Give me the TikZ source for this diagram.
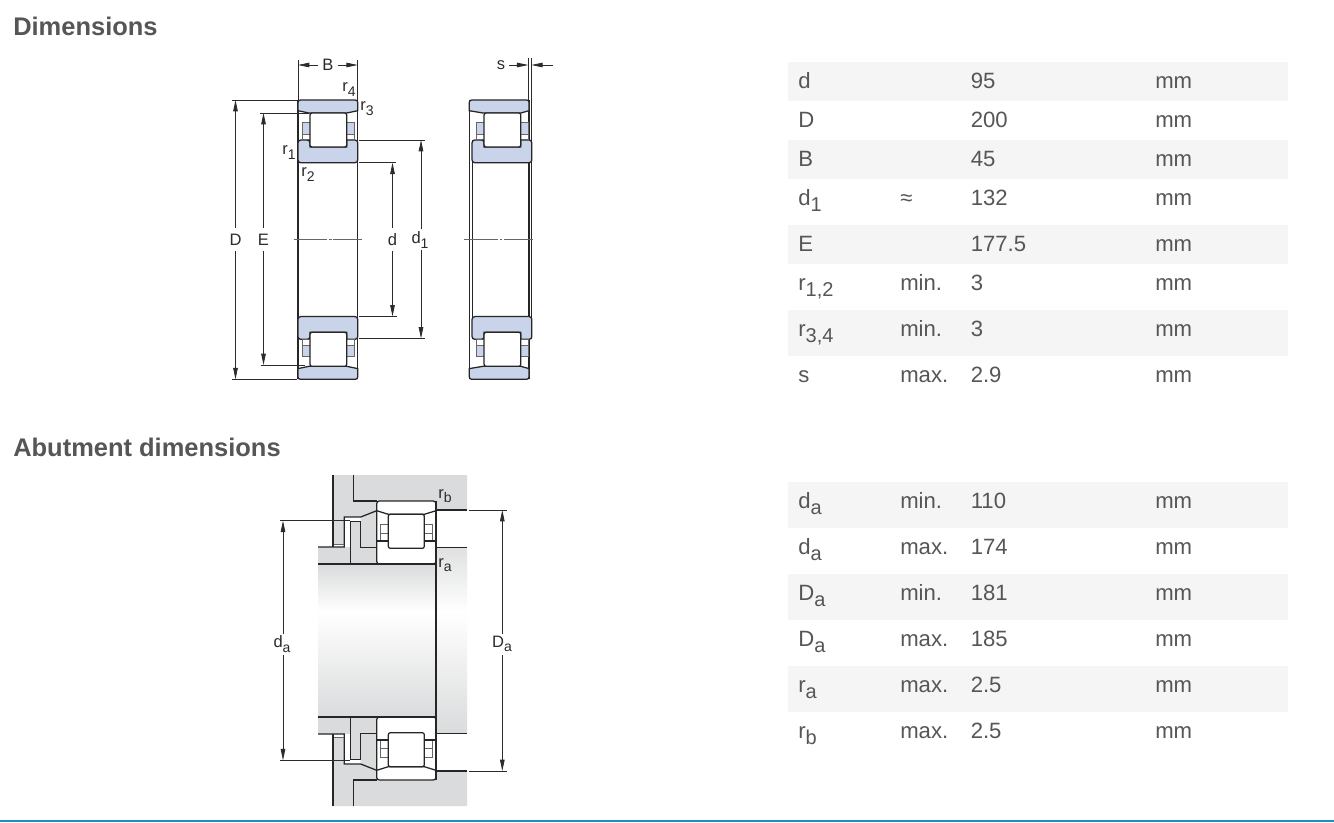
\documentclass[tikz,border=0pt]{standalone}
\usepackage{fontspec}
\setmainfont{Liberation Sans}
\usetikzlibrary{arrows.meta}
\definecolor{txt}{HTML}{565658}
\definecolor{draw1}{HTML}{2B2B2B}
\definecolor{stripe}{HTML}{F5F5F5}
\definecolor{ringblue}{HTML}{C9D4EA}
\definecolor{metal}{HTML}{DADBDC}
\definecolor{barblue}{HTML}{1A8FC4}
\newcommand{\sbs}[1]{\raisebox{-0.52ex}{\fontsize{15}{15}\selectfont #1}}
\newcommand{\dsb}[1]{\raisebox{-0.5ex}{\fontsize{10.5}{10.5}\selectfont #1}}
\newcommand{\BearingHalf}[1]{%
  \draw[part,fill=ringblue] (0,10.7) -- (0,2.5) .. controls (0,0.8) and (0.8,0) .. (2.5,0) -- (57.2,0) .. controls (58.9,0) and (59.7,0.8) .. (59.7,2.5) -- (59.7,10.7) -- (48.7+#1,13) -- (11+#1,13) -- cycle;
  \draw[part,fill=ringblue,rounded corners=2pt] (#1,40) -- (12+#1,40) [sharp corners] -- (12+#1,47) -- (48.7+#1,47) -- (48.7+#1,40) [rounded corners=2pt] -- (59.7+#1,40) -- (59.7+#1,62.7) -- (#1,62.7) -- cycle;
  \draw[thinpart,fill=white] (4.7+#1,22.7) rectangle (12+#1,39.5);
  \draw[thinpart,fill=white] (48.7+#1,22.7) rectangle (56.2+#1,39.5);
  \draw[thinpart,fill=ringblue] (4.7+#1,22.7) rectangle (12+#1,34);
  \draw[thinpart,fill=ringblue] (48.7+#1,22.7) rectangle (56.2+#1,34);
  \draw[part,fill=white,rounded corners=1.5pt] (12+#1,13) rectangle (48.7+#1,47);
}
\newcommand{\AbutHalf}{%
  \fill[metal] (333,475) -- (467,475) -- (467,510) -- (436,510) -- (436,564) -- (318,564) -- (318,547) -- (333,547) -- cycle;
  \fill[white] (344.3,517) -- (360.7,517) -- (360.7,521.7) -- (350.3,521.7) -- (350.3,547) -- (344.3,547) -- cycle;
  \fill[white] (333.5,544) rectangle (344.3,547);
  \draw[part,fill=white,rounded corners=2pt] (376.7,501) rectangle (436,564);
  \draw[part] (333,475) -- (333,547);
  \draw[part] (353.3,475) -- (353.3,501) -- (376.7,501);
  \draw[part] (436,510) -- (467,510);
  \draw[part] (318,547) -- (344.3,547) -- (344.3,517) -- (360.7,517) -- (376.7,510.7);
  \draw[thinpart] (333.5,544) -- (344.3,544);
  \draw[part] (350.3,564) -- (350.3,521.7) -- (360.7,521.7) -- (360.7,547.7) -- (376.7,547.7);
  \draw[part] (376.7,510.7) -- (388.3,514.3) -- (424.3,514.3) -- (436,510.7);
  \draw[part] (436,547.7) -- (467,547.7);
  \draw[thinpart] (380.7,524) rectangle (388.3,541);
  \draw[thinpart] (424.3,524) rectangle (432,541);
  \draw[thinpart] (380.7,533) -- (388.3,533) (424.3,533) -- (432,533);
  \draw[part] (376.7,541) -- (388.3,541) (424.3,541) -- (436,541);
  \draw[part,fill=white,rounded corners=1.5pt] (388.3,514.3) rectangle (424.3,548.3);
}
\tikzset{
  part/.style={draw=black!85,line width=0.95pt},
  thinpart/.style={draw=black!60,line width=0.55pt},
  dimline/.style={draw=draw1,line width=0.6pt},
  dimarrow/.style={draw=draw1,line width=0.6pt,-{Triangle[length=8.5pt,width=3.4pt]}},
  centre/.style={draw=black!60,line width=0.6pt},
  lab/.style={inner sep=0pt,text=draw1,font=\fontsize{12.4}{13}\selectfont,minimum height=16.5pt},
  sm/.style={inner sep=0pt,text=draw1,font=\fontsize{12.4}{13}\selectfont},
  cell/.style={anchor=base west,inner sep=0pt,text=txt,font=\fontsize{16.6}{18}\selectfont},
  head/.style={anchor=base west,inner sep=0pt,text=txt,font=\fontsize{19.1}{21}\selectfont\bfseries},
}
\begin{document}
\begin{tikzpicture}[x=0.75pt,y=-0.75pt]
\useasboundingbox (0,0) rectangle (1334,822);
\fill[white] (0,0) rectangle (1334,822);
% table stripes
\foreach \a/\b in {62/101,140/179,225/264,310/356,482/528,574/620,666/712}
  \fill[stripe] (788,\a) rectangle (1288,\b);
% headings
\node[head] (h1) at (13,35) {Dimensions};
\node[head] (h2) at (13,456) {Abutment dimensions};
% table text
\foreach \i/\y/\l/\q/\v in {
  1/88.8/{d}/{}/{95},
  2/127.8/{D}/{}/{200},
  3/166.8/{B}/{}/{45},
  4/205.8/{d\sbs{1}}/{≈}/{132},
  5/251.8/{E}/{}/{177.5},
  6/290.8/{r\sbs{1,2}}/{min.}/{3},
  7/336.8/{r\sbs{3,4}}/{min.}/{3},
  8/382.8/{s}/{max.}/{2.9},
  9/508.8/{d\sbs{a}}/{min.}/{110},
  10/554.8/{d\sbs{a}}/{max.}/{174},
  11/600.8/{D\sbs{a}}/{min.}/{181},
  12/646.8/{D\sbs{a}}/{max.}/{185},
  13/692.8/{r\sbs{a}}/{max.}/{2.5},
  14/738.8/{r\sbs{b}}/{max.}/{2.5}}{
  \node[cell] (lab\i) at (798,\y) {\l};
  \node[cell] (qual\i) at (900,\y) {\q};
  \node[cell] (val\i) at (970.5,\y) {\v};
  \node[cell] (unit\i) at (1155,\y) {mm};
}
% bearing, left drawing
\draw[part] (298,100) -- (298,379.3);
\draw[part] (357.7,100) -- (357.7,379.3);
\begin{scope}[shift={(298,100)}]\BearingHalf{0}\end{scope}
\begin{scope}[shift={(298,379.3)},yscale=-1]\BearingHalf{0}\end{scope}
% bearing, right drawing
\draw[part] (469.5,100) -- (469.5,379.3);
\draw[part] (472.3,140) -- (472.3,339.3);
\draw[part] (529,100) -- (529,379.3);
\draw[part] (531.7,140) -- (531.7,339.3);
\begin{scope}[shift={(469.3,100)}]\BearingHalf{2.8}\end{scope}
\begin{scope}[shift={(469.3,379.3)},yscale=-1]\BearingHalf{2.8}\end{scope}
% centre lines
\draw[centre] (293.5,239.5) -- (327,239.5) (328.5,239.5) -- (331.5,239.5) (333,239.5) -- (362,239.5);
\draw[centre] (464,239.5) -- (498,239.5) (499.5,239.5) -- (502,239.5) (503.5,239.5) -- (533,239.5);
% dimension labels
\node[lab] (D) at (235.5,239.5) {D};
\node[lab] (E) at (263.5,239.5) {E};
\node[lab] (dd) at (392.5,239.5) {d};
\node[lab] (d1) at (420,240) {d\dsb{1}};
\node[sm] (B) at (328,65) {B};
\node[sm] (s) at (501,65) {s};
\node[sm] (r4) at (349,89.5) {r\dsb{4}};
\node[sm] (r3) at (367,108.5) {r\dsb{3}};
\node[sm] (r1) at (289,152.5) {r\dsb{1}};
\node[sm] (r2) at (308,174.5) {r\dsb{2}};
% dimension coordinates
\coordinate (Dt) at (235.5,100); \coordinate (Db) at (235.5,379.3);
\coordinate (Et) at (263.5,113); \coordinate (Eb) at (263.5,365);
\coordinate (dt) at (392.5,162.7); \coordinate (db) at (392.5,316.4);
\coordinate (d1t) at (421,140); \coordinate (d1b) at (421,338.5);
\coordinate (Bl) at (298,65); \coordinate (Br) at (357.7,65);
\coordinate (sl) at (528.3,65); \coordinate (sr) at (531.3,65);
\draw[dimarrow] (D.north) -- (Dt);
\draw[dimarrow] (D.south) -- (Db);
\draw[dimarrow] (E.north) -- (Et);
\draw[dimarrow] (E.south) -- (Eb);
\draw[dimarrow] (dd.north) -- (dt);
\draw[dimarrow] (dd.south) -- (db);
\draw[dimarrow] (421,229) -- (d1t);
\draw[dimarrow] (421,250) -- (d1b);
\draw[dimarrow] ([xshift=-3pt]B.west) -- (Bl);
\draw[dimarrow] ([xshift=3pt]B.east) -- (Br);
\draw[dimarrow] ([xshift=3pt]s.east) -- (sl);
\draw[dimarrow] (553,65) -- (sr);
% extension lines
\draw[dimline] (232,100) -- (297,100) (260,113) -- (309,113);
\draw[dimline] (232,379.3) -- (297,379.3) (260.5,365) -- (305,365);
\draw[dimline] (358.5,140) -- (425,140) (358.5,162.7) -- (396,162.7);
\draw[dimline] (358.5,316.4) -- (397,316.4) (358.5,338.5) -- (425,338.5);
\draw[dimline] (298,60) -- (298,100) (357.7,60) -- (357.7,100);
\draw[dimline] (528.3,58) -- (528.3,100) (531.3,58) -- (531.3,140);
% abutment drawing: shaft and bore surfaces
\shade[top color=metal,bottom color=white] (318,564) rectangle (436,612);
\shade[top color=white,bottom color=metal] (318,612) rectangle (436,717);
\shade[top color=metal!85,bottom color=white] (436,547.7) rectangle (467,612);
\shade[top color=white,bottom color=metal] (436,612) rectangle (467,733.3);
\begin{scope}\AbutHalf\end{scope}
\begin{scope}[shift={(0,1281)},yscale=-1]\AbutHalf\end{scope}
\draw[part] (318,564) -- (436,564) (318,717) -- (436,717) (436,501) -- (436,780);
% abutment labels and dimensions
\node[lab] (da) at (282,644) {d\dsb{a}};
\node[lab] (Da) at (502,644) {D\dsb{a}};
\node[sm] (rb) at (445,496) {r\dsb{b}};
\node[sm] (ra) at (445,565) {r\dsb{a}};
\coordinate (dat) at (283,520.7); \coordinate (dab) at (283,760.3);
\coordinate (Dat) at (502.3,510); \coordinate (Dab) at (502.3,771);
\draw[dimarrow] (283,634) -- (dat);
\draw[dimarrow] (283,655) -- (dab);
\draw[dimarrow] (502.3,634) -- (Dat);
\draw[dimarrow] (502.3,655) -- (Dab);
\draw[dimline] (280,520.7) -- (350,520.7) (280,760.3) -- (350,760.3);
\draw[dimline] (469,510) -- (506.7,510) (469,771) -- (506.7,771);
% page bar
\fill[barblue] (0,820.2) rectangle (1334,822);
\end{tikzpicture}
\end{document}
